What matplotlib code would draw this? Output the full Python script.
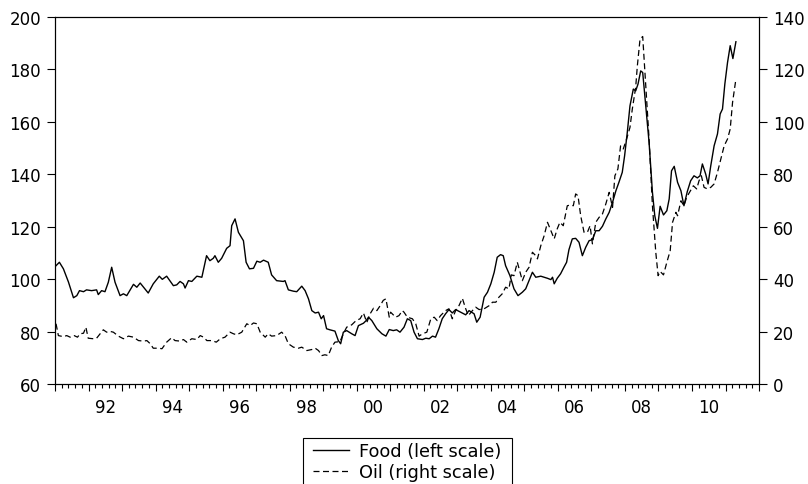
import matplotlib
matplotlib.use("Agg")
import matplotlib.pyplot as plt
from matplotlib.ticker import MultipleLocator
from matplotlib.patches import Rectangle
import numpy as np

plt.rcParams['font.family'] = ['DejaVu Sans']

# Food price index (left scale)
food_t = [1991.03, 1991.13, 1991.25, 1991.40, 1991.55, 1991.65, 1991.73, 1991.85, 1991.94,
          1992.09, 1992.24, 1992.29, 1992.39, 1992.49, 1992.59, 1992.69, 1992.79, 1992.94,
          1993.04, 1993.14, 1993.34, 1993.44, 1993.54, 1993.78, 1993.93, 1994.11, 1994.20,
          1994.33, 1994.53, 1994.63, 1994.73, 1994.83, 1994.88, 1994.98, 1995.08, 1995.23,
          1995.38, 1995.52, 1995.62, 1995.72, 1995.77, 1995.87, 1995.97, 1996.12, 1996.22,
          1996.27, 1996.37, 1996.47, 1996.62, 1996.70, 1996.80, 1996.92, 1997.02, 1997.12,
          1997.22, 1997.36, 1997.46, 1997.61, 1997.81, 1997.86, 1997.96, 1998.11, 1998.21,
          1998.36, 1998.46, 1998.56, 1998.66, 1998.76, 1998.86, 1998.94, 1999.01, 1999.10,
          1999.20, 1999.35, 1999.45, 1999.52, 1999.60, 1999.70, 1999.85, 1999.95, 2000.05,
          2000.20, 2000.28, 2000.35, 2000.45, 2000.60, 2000.75, 2000.87, 2000.97, 2001.09,
          2001.19, 2001.29, 2001.41, 2001.51, 2001.61, 2001.71, 2001.81, 2001.96, 2002.06,
          2002.16, 2002.26, 2002.35, 2002.45, 2002.55, 2002.65, 2002.75, 2002.85, 2002.95,
          2003.10, 2003.25, 2003.35, 2003.50, 2003.58, 2003.68, 2003.80, 2003.90, 2004.00,
          2004.10, 2004.19, 2004.29, 2004.37, 2004.44, 2004.57, 2004.69, 2004.81, 2004.94,
          2005.04, 2005.14, 2005.24, 2005.34, 2005.49, 2005.59, 2005.69, 2005.79, 2005.84,
          2005.89, 2005.98, 2006.08, 2006.18, 2006.26, 2006.33, 2006.43, 2006.53, 2006.63,
          2006.73, 2006.83, 2006.93, 2007.03, 2007.13, 2007.23, 2007.33, 2007.43, 2007.53,
          2007.63, 2007.73, 2007.82, 2007.92, 2007.99, 2008.07, 2008.15, 2008.25, 2008.32,
          2008.39, 2008.47, 2008.53, 2008.62, 2008.72, 2008.82, 2008.89, 2008.97, 2009.05,
          2009.15, 2009.25, 2009.32, 2009.39, 2009.47, 2009.57, 2009.67, 2009.76, 2009.86,
          2009.96, 2010.06, 2010.16, 2010.24, 2010.31, 2010.41, 2010.48, 2010.56, 2010.66,
          2010.76, 2010.84, 2010.91, 2010.98, 2011.06, 2011.14, 2011.22, 2011.31]
food_v = [105.2, 106.5, 104.0, 99.0, 93.0, 93.8, 95.7, 95.3, 96.0,
          95.7, 96.0, 94.2, 95.7, 95.3, 98.9, 104.6, 98.9, 93.8,
          94.5, 93.8, 98.1, 97.0, 98.6, 94.8, 98.3, 101.2, 100.0,
          101.2, 97.6, 97.9, 99.2, 98.3, 96.7, 99.5, 99.2, 101.2,
          100.8, 109.0, 107.1, 108.0, 109.0, 106.5, 108.0, 111.8, 112.8,
          120.4, 123.0, 117.9, 114.7, 106.5, 104.0, 104.2, 106.9, 106.5,
          107.3, 106.5, 101.7, 99.5, 99.2, 99.5, 96.0, 95.5, 95.3,
          97.4, 95.7, 92.6, 88.1, 87.2, 87.5, 85.0, 86.2, 81.2,
          80.8, 80.3, 76.7, 75.5, 79.9, 80.5, 79.3, 78.6, 82.4,
          83.3, 84.3, 85.6, 84.3, 81.2, 79.3, 78.4, 80.9, 80.5,
          80.8, 79.9, 81.8, 85.0, 84.3, 79.9, 77.4, 77.1, 77.6,
          77.4, 78.4, 78.0, 81.2, 85.0, 86.9, 88.5, 87.2, 88.5,
          87.5, 86.5, 88.1, 86.9, 83.7, 85.6, 93.2, 95.1, 98.3,
          102.7, 108.4, 109.4, 109.0, 105.2, 101.4, 96.4, 93.8, 95.1,
          96.4, 99.5, 102.7, 100.8, 101.2, 100.8, 100.4, 99.9, 100.8,
          98.3, 100.4, 102.1, 104.6, 106.5, 111.3, 115.4, 115.6, 114.1,
          109.0, 112.2, 114.7, 115.1, 118.5, 118.5, 120.2, 123.0, 125.5,
          129.3, 133.7, 136.9, 140.7, 147.0, 155.9, 166.0, 172.4, 171.7,
          174.3, 179.3, 178.7, 166.0, 152.1, 133.1, 124.2, 119.4, 127.8,
          124.5, 126.1, 130.6, 141.3, 143.0, 136.9, 133.7, 128.0, 133.4,
          137.5, 139.4, 138.6, 139.4, 143.9, 140.0, 136.3, 143.2, 150.8,
          155.3, 162.9, 164.8, 174.3, 182.5, 188.9, 184.0, 190.4]

# Oil price (right scale)
oil_t = [1991.03, 1991.10, 1991.25, 1991.35, 1991.45, 1991.57, 1991.67, 1991.75, 1991.85,
         1991.92, 1991.99, 1992.14, 1992.24, 1992.44, 1992.54, 1992.64, 1992.74, 1992.89,
         1993.04, 1993.19, 1993.34, 1993.49, 1993.64, 1993.74, 1993.84, 1993.93, 1994.09,
         1994.19, 1994.33, 1994.48, 1994.58, 1994.73, 1994.83, 1994.93, 1995.08, 1995.23,
         1995.33, 1995.43, 1995.53, 1995.68, 1995.81, 1995.93, 1996.07, 1996.22, 1996.32,
         1996.42, 1996.57, 1996.72, 1996.82, 1996.92, 1997.02, 1997.12, 1997.27, 1997.36,
         1997.46, 1997.61, 1997.76, 1997.86, 1997.96, 1998.11, 1998.26, 1998.36, 1998.51,
         1998.66, 1998.76, 1998.86, 1998.96, 1999.05, 1999.15, 1999.25, 1999.35, 1999.50,
         1999.60, 1999.70, 1999.85, 1999.98, 2000.10, 2000.20, 2000.30, 2000.40, 2000.50,
         2000.60, 2000.70, 2000.79, 2000.87, 2000.97, 2001.01, 2001.16, 2001.26, 2001.36,
         2001.41, 2001.51, 2001.66, 2001.76, 2001.86, 2001.96, 2002.09, 2002.21, 2002.31,
         2002.40, 2002.50, 2002.65, 2002.75, 2002.85, 2002.95, 2003.05, 2003.15, 2003.25,
         2003.33, 2003.45, 2003.55, 2003.65, 2003.80, 2003.95, 2004.05, 2004.15, 2004.24,
         2004.34, 2004.44, 2004.54, 2004.61, 2004.69, 2004.79, 2004.87, 2004.94, 2005.04,
         2005.14, 2005.24, 2005.34, 2005.39, 2005.49, 2005.59, 2005.69, 2005.79, 2005.89,
         2005.98, 2006.06, 2006.16, 2006.28, 2006.38, 2006.46, 2006.53, 2006.60, 2006.68,
         2006.78, 2006.88, 2006.96, 2007.03, 2007.13, 2007.23, 2007.33, 2007.43, 2007.53,
         2007.63, 2007.70, 2007.79, 2007.87, 2007.95, 2008.05, 2008.15, 2008.22, 2008.32,
         2008.37, 2008.45, 2008.53, 2008.62, 2008.72, 2008.82, 2008.92, 2008.99, 2009.05,
         2009.15, 2009.25, 2009.35, 2009.42, 2009.52, 2009.57, 2009.67, 2009.76, 2009.84,
         2009.94, 2010.04, 2010.14, 2010.21, 2010.28, 2010.36, 2010.46, 2010.56, 2010.66,
         2010.76, 2010.86, 2010.96, 2011.06, 2011.14, 2011.21, 2011.31]
oil_v = [23.1, 18.6, 18.2, 18.6, 18.0, 18.6, 18.0, 19.3, 19.5,
         21.8, 17.6, 17.4, 17.6, 20.8, 19.9, 20.2, 19.9, 18.4,
         17.4, 18.4, 18.0, 16.7, 16.5, 16.7, 15.5, 13.8, 13.8,
         13.6, 16.1, 17.8, 16.7, 16.5, 17.1, 16.1, 17.4, 17.1,
         18.6, 18.0, 16.7, 16.7, 16.1, 17.4, 18.0, 19.9, 19.3,
         18.9, 19.9, 23.1, 22.4, 23.4, 23.1, 19.9, 18.0, 19.3,
         18.4, 18.6, 19.9, 18.6, 15.5, 14.2, 13.8, 14.2, 12.9,
         13.3, 13.8, 12.9, 11.0, 11.3, 11.0, 14.2, 16.1, 16.3,
         19.3, 21.8, 22.7, 24.3, 25.0, 27.2, 23.6, 26.9, 29.0,
         28.1, 30.0, 32.0, 32.6, 25.6, 27.5, 25.6, 26.2, 28.1,
         27.5, 25.6, 25.0, 23.1, 18.4, 19.3, 19.9, 25.0, 25.6,
         24.3, 26.2, 28.1, 28.8, 25.0, 28.1, 30.0, 32.8, 28.8,
         26.2, 28.1, 29.4, 28.5, 28.8, 30.0, 31.3, 31.3, 33.2,
         34.5, 37.0, 36.4, 41.7, 41.4, 46.5, 42.7, 39.5, 42.7,
         44.6, 50.3, 49.0, 47.8, 52.8, 56.6, 61.7, 58.5, 55.4,
         59.2, 61.7, 60.4, 68.0, 68.3, 68.0, 72.5, 71.8, 64.2,
         57.9, 57.9, 60.4, 53.5, 61.7, 63.6, 64.9, 68.7, 73.1,
         67.4, 79.4, 82.0, 90.8, 89.6, 93.4, 97.8, 104.8, 113.0,
         121.2, 131.4, 132.4, 113.6, 93.4, 68.0, 50.3, 41.4, 43.0,
         41.7, 46.5, 50.9, 61.7, 65.5, 64.2, 69.9, 68.0, 71.2,
         73.4, 75.6, 74.4, 77.5, 79.4, 75.0, 74.4, 75.0, 76.3,
         80.7, 85.8, 90.8, 93.4, 97.2, 107.3, 116.2]

label_years = [1992, 1994, 1996, 1998, 2000, 2002, 2004, 2006, 2008, 2010]
label_text = ['92', '94', '96', '98', '00', '02', '04', '06', '08', '10']

fig = plt.figure(figsize=(8.08, 4.85), dpi=100)
ax = fig.add_axes([0.0681, 0.2052, 0.8713, 0.7587])
ax2 = ax.twinx()

l1, = ax.plot(food_t, food_v, color='black', lw=1.0, label='Food (left scale)')
l2, = ax2.plot(oil_t, oil_v, color='black', lw=0.9, ls=(0, (4.8, 2.8)), label='Oil (right scale)')

ax.set_xlim(1991, 2012)
ax.set_ylim(60, 200)
ax2.set_ylim(0, 140)
ax.set_yticks(np.arange(60, 201, 20))
ax2.set_yticks(np.arange(0, 141, 20))

# year ticks (tall) and sub ticks, labels centred inside the years
ax.xaxis.set_major_locator(MultipleLocator(1))
ax.xaxis.set_minor_locator(MultipleLocator(0.2))
ax.tick_params(axis='x', which='major', length=5, width=0.8, labelbottom=False)
ax.tick_params(axis='x', which='minor', length=3, width=0.8)
ax.tick_params(axis='y', length=6, width=0.8, pad=4, labelsize=12)
ax2.tick_params(axis='y', length=6, width=0.8, pad=4, labelsize=12)

sec = ax.secondary_xaxis('bottom')
sec.set_xticks(np.array(label_years) + 0.5, label_text)
sec.tick_params(length=0, pad=10, labelsize=12)
sec.spines['bottom'].set_visible(False)

for a in (ax, ax2):
    for s in a.spines.values():
        s.set_linewidth(0.8)

leg = fig.legend([l1, l2], [l1.get_label(), l2.get_label()], loc='upper left',
                 bbox_to_anchor=(312.7 / 808, 1 - 443.0 / 485), fontsize=12.8, frameon=False,
                 handlelength=2.06, handletextpad=0.56, labelspacing=0.18,
                 borderpad=0, borderaxespad=0)
fig.patches.append(Rectangle((303.3 / 808, -0.01), 208.4 / 808, 0.01 + 1 - 439.0 / 485,
                             transform=fig.transFigure, fill=False, edgecolor='black', lw=0.8))

fig.savefig('out.png', dpi=100)
